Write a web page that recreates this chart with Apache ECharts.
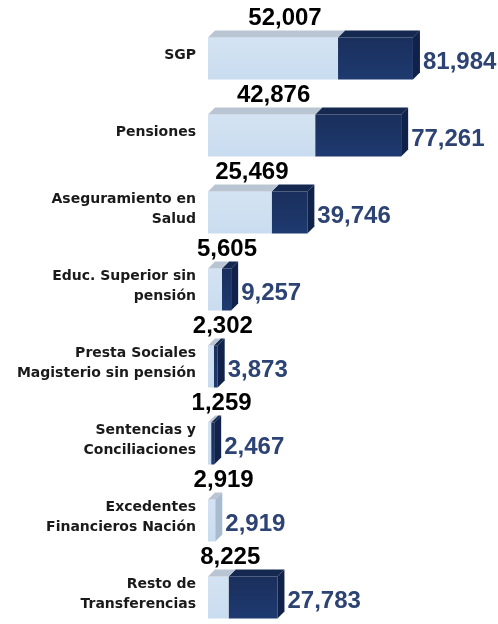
<!DOCTYPE html>
<html>
<head>
<meta charset="utf-8">
<script src="https://cdn.jsdelivr.net/npm/echarts@6/dist/echarts.min.js"></script>
<style>html,body{margin:0;padding:0;background:#fff}#c{width:498px;height:624px}</style>
</head>
<body>
<div id="c"></div>
<script>
const categories = ['SGP', 'Pensiones', 'Aseguramiento en\nSalud', 'Educ. Superior sin\npensión', 'Presta Sociales\nMagisterio sin pensión', 'Sentencias y\nConciliaciones', 'Excedentes\nFinancieros Nación', 'Resto de\nTransferencias'];
const lightValues = [52007, 42876, 25469, 5605, 2302, 1259, 2919, 8225];
const totalValues = [81984, 77261, 39746, 9257, 3873, 2467, 2919, 27783];

const fmt = v => v.toLocaleString('en-US');
const data = categories.map((c, i) => [i, lightValues[i], totalValues[i]]);

function renderItem(params, api) {
  const i = api.value(0), a = api.value(1), t = api.value(2);
  const p0 = api.coord([0, i]), pa = api.coord([a, i]), pt = api.coord([t, i]);
  const h = 42, d = 7;
  const yc = p0[1];
  const yT = yc - h / 2 + d / 2, yB = yT + h;
  const x0 = p0[0], xa = pa[0], xt = pt[0];
  const children = [];
  if (xt > xa) {
    children.push({type: 'rect', shape: {x: xa, y: yT, width: xt - xa, height: h},
      style: {fill: {type: 'linear', x: 0, y: 0, x2: 0, y2: 1, colorStops: [{offset: 0, color: '#1a2f5c'}, {offset: 1, color: '#1e3a70'}]}}});
    children.push({type: 'polygon', shape: {points: [[xa, yT], [xa + d, yT - d], [xt + d, yT - d], [xt, yT]]}, style: {fill: '#142850'}});
  }
  if (xa > x0) {
    children.push({type: 'rect', shape: {x: x0, y: yT, width: xa - x0, height: h},
      style: {fill: {type: 'linear', x: 0, y: 0, x2: 0, y2: 1, colorStops: [{offset: 0, color: '#d4e3f3'}, {offset: 1, color: '#c9dcef'}]}}});
    children.push({type: 'polygon', shape: {points: [[x0, yT], [x0 + d, yT - d], [xa + d, yT - d], [xa, yT]]}, style: {fill: '#b9c5d2'}});
  }
  const rightDark = xt > xa;
  children.push({type: 'polygon', shape: {points: [[xt, yT], [xt + d, yT - d], [xt + d, yB - d], [xt, yB]]}, style: {fill: rightDark ? '#10224a' : '#a9bccf'}});
  children.push({type: 'text', style: {text: fmt(a), x: (x0 + xa) / 2 + 12, y: yT - d, align: 'center', verticalAlign: 'bottom',
    fill: '#000', fontSize: 24, fontWeight: 'bold', fontFamily: 'Liberation Sans'}});
  children.push({type: 'text', style: {text: fmt(t), x: xt + d + 3, y: yc + 7, align: 'left', verticalAlign: 'middle',
    fill: '#2c4373', fontSize: 24, fontWeight: 'bold', fontFamily: 'Liberation Sans'}});
  return {type: 'group', children};
}

const chart = echarts.init(document.getElementById('c'));
chart.setOption({
  animation: false,
  grid: {left: 208, right: 40, top: 55, bottom: 30},
  xAxis: {type: 'value', min: 0, max: 100000, show: false},
  yAxis: {type: 'category', data: categories, inverse: true, boundaryGap: false,
    axisLine: {show: false}, axisTick: {show: false}, splitLine: {show: false},
    axisLabel: {margin: 12, color: '#1a1a1a', fontSize: 14, fontWeight: 'bold', fontFamily: 'DejaVu Sans', lineHeight: 20, align: 'right'}},
  series: [{type: 'custom', renderItem, data, encode: {x: [1, 2], y: 0}, clip: false}]
});
</script>
</body>
</html>
